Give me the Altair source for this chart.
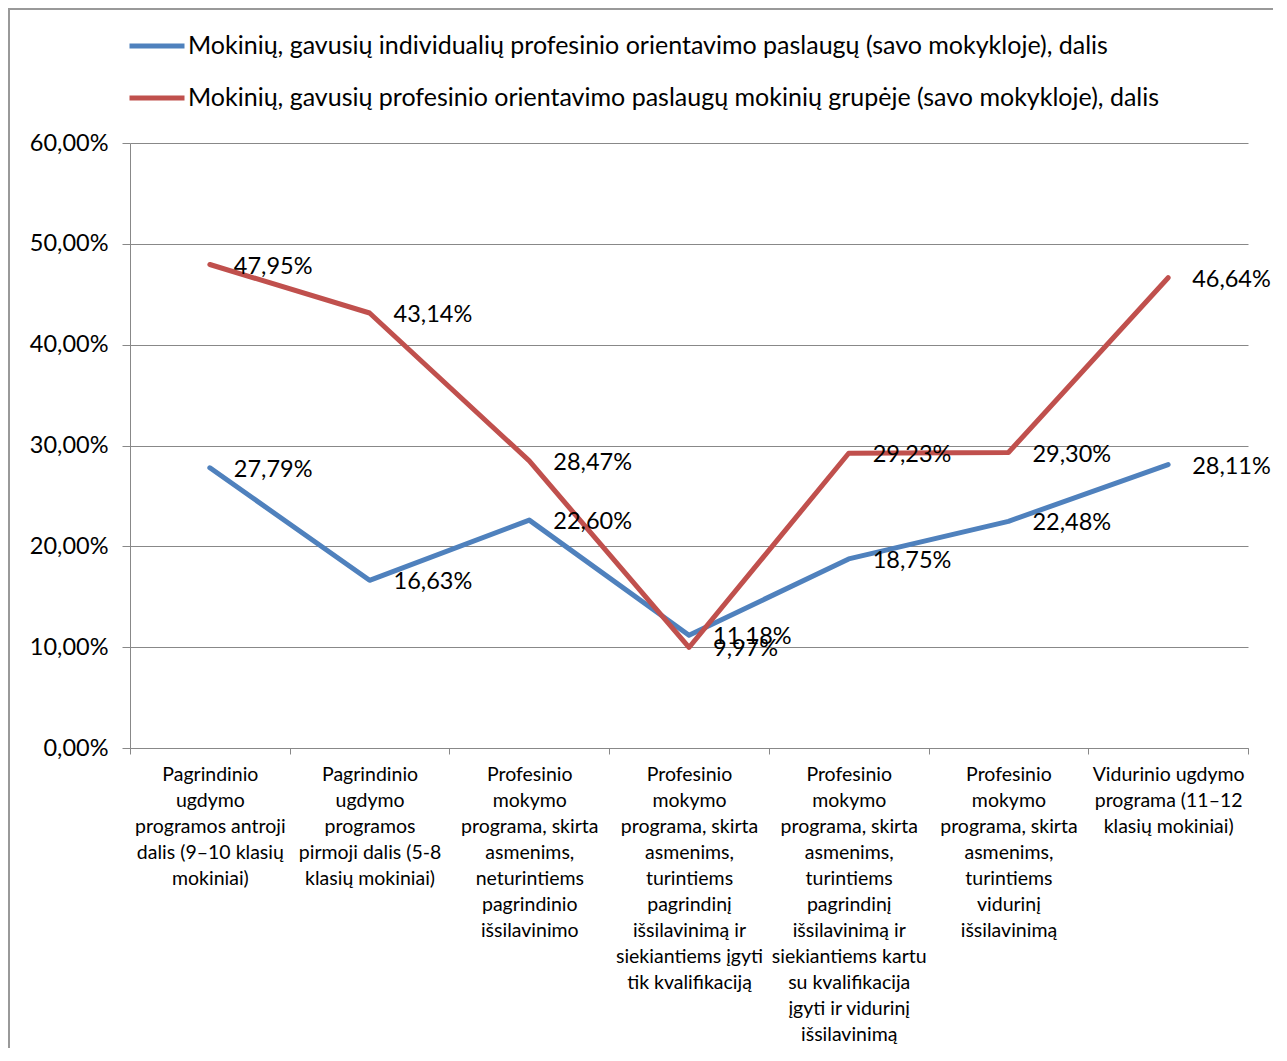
import altair as alt
import pandas as pd

category_lines = [
    ["Pagrindinio", "ugdymo", "programos antroji", "dalis (9–10 klasių", "mokiniai)"],
    ["Pagrindinio", "ugdymo", "programos", "pirmoji dalis (5-8", "klasių mokiniai)"],
    ["Profesinio", "mokymo", "programa, skirta", "asmenims,", "neturintiems", "pagrindinio", "išsilavinimo"],
    ["Profesinio", "mokymo", "programa, skirta", "asmenims,", "turintiems", "pagrindinį", "išsilavinimą ir", "siekiantiems įgyti", "tik kvalifikaciją"],
    ["Profesinio", "mokymo", "programa, skirta", "asmenims,", "turintiems", "pagrindinį", "išsilavinimą ir", "siekiantiems kartu", "su kvalifikacija", "įgyti ir vidurinį", "išsilavinimą"],
    ["Profesinio", "mokymo", "programa, skirta", "asmenims,", "turintiems", "vidurinį", "išsilavinimą"],
    ["Vidurinio ugdymo", "programa (11–12", "klasių mokiniai)"],
]
categories = ["|".join(l) for l in category_lines]

series_names = [
    "Mokinių, gavusių individualių profesinio orientavimo paslaugų (savo mokykloje), dalis",
    "Mokinių, gavusių profesinio orientavimo paslaugų mokinių grupėje (savo mokykloje), dalis",
]
series_colors = ["#4F81BD", "#C0504D"]

individual = [27.79, 16.63, 22.60, 11.18, 18.75, 22.48, 28.11]
group = [47.95, 43.14, 28.47, 9.97, 29.23, 29.30, 46.64]

rows = []
for s, vals in zip(series_names, [individual, group]):
    for c, v in zip(categories, vals):
        rows.append({"category": c, "series": s, "value": v / 100.0})
df = pd.DataFrame(rows)

FONT = "Lato"

x_enc = alt.X(
    "category:N",
    sort=categories,
    scale=alt.Scale(paddingInner=0, paddingOuter=0),
    axis=alt.Axis(
        title=None,
        labelAngle=0,
        labelExpr="split(datum.label, '|')",
        labelLineHeight=26,
        labelFontSize=19.5,
        labelPadding=11,
        labelLimit=400,
        labelColor="#000000",
        tickBand="extent",
        tickSize=6,
        tickColor="#888888",
        domainColor="#888888",
        grid=False,
    ),
)
y_enc = alt.Y(
    "value:Q",
    scale=alt.Scale(domain=[0, 0.6], nice=False),
    axis=alt.Axis(
        title=None,
        values=[0, 0.1, 0.2, 0.3, 0.4, 0.5, 0.6],
        labelExpr="replace(format(datum.value, '.2%'), '.', ',')",
        labelFontSize=23.5,
        labelPadding=14,
        labelColor="#000000",
        tickSize=8,
        tickColor="#888888",
        domainColor="#888888",
        grid=True,
        gridColor="#888888",
        gridWidth=1,
    ),
)

base = alt.Chart(df)

lines = base.mark_line(strokeWidth=5, strokeJoin="round", strokeCap="round").encode(
    x=x_enc,
    y=y_enc,
    color=alt.Color(
        "series:N",
        scale=alt.Scale(domain=series_names, range=series_colors),
        legend=alt.Legend(
            title=None,
            orient="none",
            legendX=-3,
            legendY=-127,
            direction="vertical",
            symbolType="stroke",
            symbolSize=3025,
            symbolStrokeWidth=5,
            labelFontSize=25,
            labelLimit=1200,
            labelOffset=1,
            rowPadding=9,
            labelColor="#000000",
        ),
    ),
    order=alt.value(0),
)

labels = base.transform_calculate(
    lbl="replace(format(datum.value, '.2%'), '.', ',')"
).mark_text(align="left", baseline="middle", dx=24, dy=2, fontSize=23.5, color="#000000").encode(
    x=alt.X("category:N", sort=categories),
    y=alt.Y("value:Q"),
    text="lbl:N",
)

frame = alt.Chart(pd.DataFrame({"a": [0]})).mark_rect(
    fill=None, stroke="#999999", strokeWidth=2, clip=False
).encode(
    x=alt.value(-121), x2=alt.value(1147), y=alt.value(-134), y2=alt.value(1100)
)

chart = alt.layer(lines, labels, frame).properties(
    width=1118,
    height=605,
    padding={"left": 122, "top": 135, "right": 25, "bottom": 300},
    autosize=alt.AutoSizeParams(type="none"),
).configure(font=FONT).configure_view(stroke=None)

chart.save("out.html", embed_options={"renderer": "svg", "actions": False})
